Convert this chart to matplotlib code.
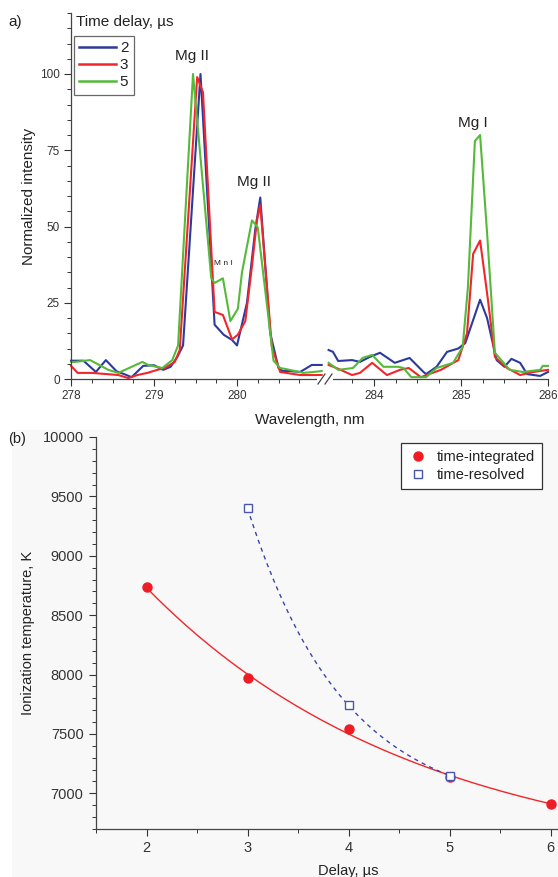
import numpy as np
import matplotlib
matplotlib.use("Agg")
import matplotlib.pyplot as plt
from matplotlib.ticker import MultipleLocator, FixedLocator
from matplotlib.lines import Line2D
from matplotlib.patches import Rectangle

plt.rcParams['font.family'] = ['Liberation Sans', 'DejaVu Sans']

# ---------------- spectra (panel a) ----------------
delays = ["2", "3", "5"]
colors = ["#2b3a9e", "#f2262a", "#55b93a"]

# left window 278-281 nm
wl_left_2 = [278.00, 278.15, 278.30, 278.42, 278.55, 278.65, 278.73, 278.87, 279.00, 279.11,
             279.20, 279.28, 279.35, 279.56, 279.73, 279.84, 279.94, 280.00, 280.12, 280.22,
             280.28, 280.40, 280.50, 280.55, 280.64, 280.76, 280.84, 280.90, 281.02]
int_left_2 = [6.0, 6.0, 2.3, 6.2, 2.5, 1.5, 0.6, 4.3, 4.5, 3.0,
              4.0, 7.2, 11.0, 100.0, 17.8, 14.5, 12.8, 11.0, 25.0, 49.0,
              59.5, 15.0, 3.6, 2.6, 2.6, 2.3, 3.6, 4.6, 4.6]

wl_left_3 = [278.00, 278.08, 278.25, 278.57, 278.69, 278.80, 278.92, 279.04, 279.13, 279.25,
             279.31, 279.52, 279.59, 279.73, 279.83, 279.94, 280.01, 280.10, 280.18, 280.24,
             280.28, 280.42, 280.52, 280.76, 281.02]
int_left_3 = [4.3, 2.0, 2.0, 1.3, 0.3, 1.3, 2.0, 3.0, 3.6, 5.6,
              9.5, 99.0, 94.0, 22.0, 21.0, 13.0, 14.5, 19.0, 37.0, 52.0,
              57.0, 10.5, 2.3, 1.3, 1.3]

wl_left_5 = [278.00, 278.05, 278.23, 278.45, 278.57, 278.86, 278.93, 279.10, 279.22, 279.29,
             279.47, 279.69, 279.73, 279.83, 279.92, 280.01, 280.06, 280.18, 280.25, 280.44,
             280.52, 280.58, 280.70, 280.80, 280.92, 281.02]
int_left_5 = [5.6, 5.6, 6.2, 3.0, 2.0, 5.6, 4.6, 3.6, 6.2, 11.0,
              100.0, 33.0, 31.5, 33.0, 19.0, 23.0, 35.0, 52.0, 49.7, 6.0,
              3.6, 3.3, 2.6, 2.0, 2.3, 2.6]

# right window 283.5-286 nm
wl_right_2 = [283.48, 283.53, 283.59, 283.75, 283.84, 283.95, 284.07, 284.24, 284.41, 284.57,
              284.60, 284.72, 284.84, 284.97, 285.05, 285.22, 285.30, 285.41, 285.50, 285.58,
              285.68, 285.76, 285.91, 286.00]
int_right_2 = [9.5, 8.9, 5.9, 6.2, 5.6, 7.2, 8.6, 5.3, 6.9, 2.3,
               1.6, 4.0, 8.9, 10.0, 11.8, 26.0, 20.0, 6.2, 4.0, 6.6,
               5.3, 1.6, 1.0, 2.3]

wl_right_3 = [283.48, 283.57, 283.75, 283.84, 283.98, 284.15, 284.30, 284.40, 284.54, 284.77,
              284.97, 285.07, 285.14, 285.22, 285.31, 285.39, 285.53, 285.68, 285.83, 286.00]
int_right_3 = [4.6, 3.6, 1.3, 2.0, 5.3, 1.3, 3.0, 3.6, 0.6, 3.0,
               6.2, 15.0, 41.0, 45.4, 26.0, 7.2, 3.6, 1.3, 2.3, 3.0]

wl_right_5 = [283.48, 283.59, 283.76, 283.87, 283.98, 284.11, 284.28, 284.34, 284.43, 284.60,
              284.72, 284.91, 285.02, 285.08, 285.16, 285.22, 285.30, 285.39, 285.56, 285.71,
              285.91, 285.94, 286.00]
int_right_5 = [5.3, 3.0, 3.6, 6.9, 7.9, 4.0, 4.0, 3.6, 0.6, 0.6,
               3.6, 5.3, 10.5, 30.0, 78.0, 80.0, 48.0, 8.6, 3.0, 2.3,
               3.0, 4.3, 4.3]

left_series = [(wl_left_2, int_left_2), (wl_left_3, int_left_3), (wl_left_5, int_left_5)]
right_series = [(wl_right_2, int_right_2), (wl_right_3, int_right_3), (wl_right_5, int_right_5)]

# ---------------- temperatures (panel b) ----------------
delay_int = [2, 3, 4, 5, 6]
temp_int = [8740, 7970, 7540, 7140, 6910]
delay_res = [3, 4, 5]
temp_res = [9400, 7740, 7150]

W, H = 558, 877
fig = plt.figure(figsize=(W / 100, H / 100), dpi=100)


def fx(px):
    return px / W


def fy(py):
    return (H - py) / H


tick_color = "#333333"
text_color = "#222222"

# ---- panel a axes ----
ax_l = fig.add_axes([fx(71), fy(379), fx(325) - fx(71), fy(13) - fy(379)])
ax_r = fig.add_axes([fx(326), fy(379), fx(548) - fx(326), fy(13) - fy(379)])

for (x, y), c in zip(left_series, colors):
    ax_l.plot(x, y, color=c, lw=1.5, clip_on=False)
for (x, y), c in zip(right_series, colors):
    ax_r.plot(x, y, color=c, lw=1.5, clip_on=False)

ax_l.set_xlim(278, 281.06)
ax_r.set_xlim(283.45, 286)
for ax in (ax_l, ax_r):
    ax.set_ylim(0, 120)
    ax.spines['top'].set_visible(False)
    ax.spines['right'].set_visible(False)
    ax.tick_params(axis='both', which='major', direction='out', length=5, width=0.8,
                   labelsize=8.5, colors=tick_color, pad=3)
    ax.tick_params(axis='both', which='minor', direction='out', length=3, width=0.7,
                   colors=tick_color)
    for s in ax.spines.values():
        s.set_color("#444444")
        s.set_linewidth(0.9)
    ax.patch.set_alpha(0)

ax_l.set_xticks([278, 279, 280])
ax_l.xaxis.set_minor_locator(FixedLocator([278.25, 278.5, 278.75, 279.25, 279.5, 279.75,
                                           280.25, 280.5, 280.75]))
ax_r.set_xticks([284, 285, 286])
ax_r.xaxis.set_minor_locator(FixedLocator([283.75, 284.25, 284.5, 284.75,
                                           285.25, 285.5, 285.75]))

ax_l.set_yticks([0, 25, 50, 75, 100])
ax_l.yaxis.set_minor_locator(MultipleLocator(5))
ax_l.set_ylabel("Normalized intensity", fontsize=11, labelpad=3, color=text_color)
ax_r.spines['left'].set_visible(False)
ax_r.tick_params(axis='y', which='both', left=False, labelleft=False)

# axis break on the wavelength axis
fig.patches.append(Rectangle((fx(317), fy(382)), fx(333) - fx(317), fy(376) - fy(382),
                             transform=fig.transFigure, facecolor='white',
                             edgecolor='none', zorder=5))
for x0 in (318, 325):
    fig.lines.append(Line2D([fx(x0), fx(x0 + 7)], [fy(384), fy(374)],
                            transform=fig.transFigure, color="#444444", lw=0.9, zorder=6))

fig.text(fx(309.5), fy(420), "Wavelength, nm", fontsize=11, ha='center', va='center',
         color=text_color)

ax_l.text(279.46, 106, "Mg II", fontsize=11, ha='center', va='center', color=text_color)
ax_l.text(280.21, 64.5, "Mg II", fontsize=11, ha='center', va='center', color=text_color)
ax_l.text(279.84, 37.8, "M n I", fontsize=6, ha='center', va='center', color=text_color)
ax_r.text(285.14, 84.0, "Mg I", fontsize=11, ha='center', va='center', color=text_color)

handles = [Line2D([], [], color=c, lw=1.8) for c in colors]
leg_a = fig.legend(handles, delays, loc='upper left',
                   bbox_to_anchor=(fx(74), fy(36)), bbox_transform=fig.transFigure,
                   fontsize=11, frameon=True, fancybox=False, edgecolor="#444444",
                   handlelength=2.4, handletextpad=0.25, labelspacing=0.2,
                   borderpad=0.35, borderaxespad=0)
leg_a.get_frame().set_linewidth(0.9)
for t in leg_a.get_texts():
    t.set_color(text_color)
fig.text(fx(76), fy(22), "Time delay, \u00b5s", fontsize=11, ha='left', va='center',
         color=text_color)
fig.text(fx(8), fy(22), "a)", fontsize=11, ha='left', va='center', color=text_color)

# ---- panel b ----
fig.patches.append(Rectangle((fx(12), 0), 1 - fx(12), fy(430), transform=fig.transFigure,
                             facecolor="#f8f8f8", edgecolor='none', zorder=-1))

ax_b = fig.add_axes([fx(96), fy(829), fx(601) - fx(96), fy(437) - fy(829)])
ax_b.patch.set_alpha(0)

# exponential decay fit through the time-integrated points
xi = np.array(delay_int, float)
yi = np.array(temp_int, float)
best = None
for tau in np.linspace(0.3, 10, 2000):
    M = np.column_stack([np.ones_like(xi), np.exp(-xi / tau)])
    coef, res, *_ = np.linalg.lstsq(M, yi, rcond=None)
    r = np.sum((M @ coef - yi) ** 2)
    if best is None or r < best[0]:
        best = (r, tau, coef)
_, tau, (y0, A) = best
xf = np.linspace(2, 6, 200)
ax_b.plot(xf, y0 + A * np.exp(-xf / tau), color="#f2262a", lw=1.0, zorder=2)

# exponential through the three time-resolved points
xr = np.array(delay_res, float)
yr = np.array(temp_res, float)
q = (yr[2] - yr[1]) / (yr[1] - yr[0])
Ar = (yr[1] - yr[0]) / (q - 1)
y0r = yr[0] - Ar
xrf = np.linspace(3, 5, 200)
ax_b.plot(xrf, y0r + Ar * q ** (xrf - 3), color="#3a45a8", lw=1.0, ls=(0, (3, 3)), zorder=2)

ax_b.plot(delay_int, temp_int, 'o', color="#ee1c25", ms=6.5, zorder=3, clip_on=False,
          label="time-integrated")
ax_b.plot(delay_res, temp_res, 's', mfc='white', mec="#4a55b0", mew=1.0, ms=6,
          zorder=4, clip_on=False, label="time-resolved")

ax_b.set_xlim(1.5, 6.5)
ax_b.set_ylim(6700, 10000)
ax_b.set_xticks([2, 3, 4, 5, 6])
ax_b.xaxis.set_minor_locator(MultipleLocator(0.5))
ax_b.yaxis.set_major_locator(MultipleLocator(500))
ax_b.yaxis.set_minor_locator(MultipleLocator(100))
ax_b.spines['top'].set_visible(False)
ax_b.spines['right'].set_visible(False)
for s in ax_b.spines.values():
    s.set_color("#444444")
    s.set_linewidth(0.9)
ax_b.tick_params(axis='both', which='major', direction='out', length=5, width=0.8,
                 labelsize=10.5, colors=tick_color, pad=4)
ax_b.tick_params(axis='both', which='minor', direction='out', length=3, width=0.7,
                 colors=tick_color)
ax_b.set_ylabel("Ionization temperature, K", fontsize=10.5, labelpad=5, color=text_color)
ax_b.set_xlabel("Delay, \u00b5s", fontsize=10.5, labelpad=6, color=text_color)

leg_b = fig.legend(*ax_b.get_legend_handles_labels(), loc='upper right',
                   bbox_to_anchor=(fx(542), fy(443)), bbox_transform=fig.transFigure,
                   fontsize=10.5, frameon=True, fancybox=False, edgecolor="#333333",
                   facecolor='white', framealpha=1, handlelength=1.2, handletextpad=0.7,
                   labelspacing=0.25, borderpad=0.5, borderaxespad=0)
leg_b.get_frame().set_linewidth(0.9)
for t in leg_b.get_texts():
    t.set_color(text_color)
fig.text(fx(8), fy(439), "(b)", fontsize=10.5, ha='left', va='center', color=text_color)

fig.savefig("out.png", dpi=100)
